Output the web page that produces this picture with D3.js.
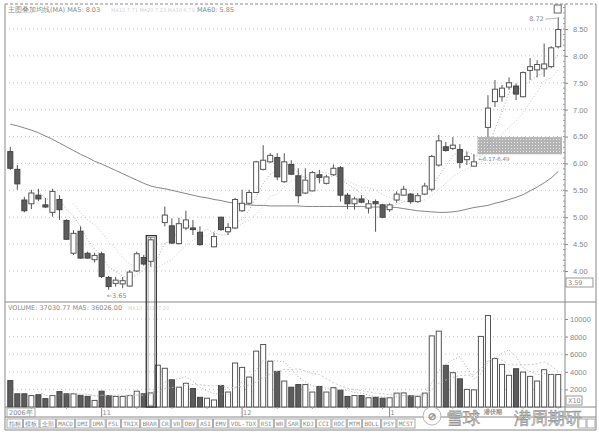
<!DOCTYPE html>
<html>
<head>
<meta charset="utf-8">
<title>K线图</title>
<style>
body { margin: 0; background: #fff; }
svg { display: block; font-family: 'DejaVu Sans', sans-serif; }
.grid { stroke: #c8c8c8; stroke-dasharray: 1,3; }
.frame { stroke: #888; fill: none; }
.up { fill: #fff; stroke: #555; }
.down { fill: #5c5c5c; stroke: #444; }
.wick { stroke: #555; }
.axis-label { fill: #888; font-size: 7.5px; }
.small { fill: #888; font-size: 6.5px; }
.btn { fill: #fff; stroke: #aaa; }
.btn-text { fill: #888; font-size: 6px; font-family: 'DejaVu Sans Mono', monospace; }
</style>
<script src="https://cdn.jsdelivr.net/npm/d3@7"></script>
</head>
<body>
<script>
// daily candles, null = not drawn
var opens  = [6.22,5.89,5.32,5.25,5.41,5.23,5.09,5.33,4.94,4.33,4.74,4.33,4.21,4.32,3.88,3.77,3.76,3.72,4.00,4.25,4.18,null,4.90,4.84,4.51,4.80,4.80,4.72,null,4.45,5.00,4.73,4.80,5.12,5.26,5.46,5.89,6.03,6.11,5.66,5.98,5.77,5.45,5.49,5.79,5.63,5.79,5.92,5.41,5.25,5.34,5.17,5.29,5.23,5.14,5.32,5.41,5.43,5.29,5.43,5.52,5.97,6.31,6.28,6.26,6.07,5.95,null,6.67,7.15,7.24,7.42,7.44,7.24,7.73,7.74,7.76,7.80,8.17];
var highs  = [6.31,5.97,5.38,5.51,5.53,5.36,5.53,5.41,4.96,4.76,4.83,4.36,4.34,4.36,3.91,3.89,3.89,4.02,4.36,4.30,4.62,null,5.20,4.98,4.99,5.12,4.95,4.83,null,4.71,5.01,4.89,5.36,5.51,5.51,6.05,6.34,6.19,6.19,6.19,6.06,5.91,5.91,5.86,5.88,5.79,5.98,5.95,5.45,5.38,5.41,5.32,5.33,5.25,5.26,5.48,5.58,5.45,5.45,5.64,6.16,6.53,6.40,6.49,6.36,6.22,6.17,null,7.27,7.55,7.46,7.60,7.49,7.71,7.96,7.92,8.23,8.18,8.72];
var lows   = [5.88,5.51,5.09,5.15,5.30,5.17,5.01,4.95,4.58,4.30,4.23,4.23,4.16,3.87,3.65,3.71,3.68,3.71,3.98,4.10,4.08,null,4.83,4.50,4.49,4.76,4.67,4.47,null,4.44,4.75,4.67,4.78,5.10,5.23,5.45,5.87,6.01,5.69,5.64,5.79,5.26,5.43,5.48,5.63,5.61,5.77,5.29,5.15,5.14,5.26,5.07,4.73,4.98,5.10,5.27,5.40,5.25,5.27,5.41,5.48,5.94,6.22,6.25,5.91,5.97,5.94,null,6.49,7.05,7.15,7.37,7.18,7.23,7.55,7.60,7.61,7.77,8.14];
var closes = [5.91,5.62,5.12,5.45,5.34,5.19,5.48,5.14,4.59,4.70,4.24,4.24,4.29,3.90,3.71,3.83,3.82,3.98,4.32,4.13,4.58,null,5.04,4.52,4.88,4.95,4.77,4.49,null,4.64,4.77,4.81,5.33,5.26,5.46,6.03,6.06,6.15,5.75,6.03,5.80,5.40,5.69,5.83,5.74,5.75,5.91,5.41,5.25,5.34,5.28,5.25,5.25,5.00,5.23,5.43,5.52,5.29,5.40,5.58,6.13,6.42,6.24,6.34,6.02,6.13,6.03,null,7.03,7.38,7.40,7.50,7.29,7.69,7.80,7.84,7.85,8.15,8.49];
var volumes = [3000,1500,1500,1300,1400,950,1300,1750,1500,1500,1300,1200,750,1800,1300,1200,1200,1300,1800,1500,1600,4750,4400,3100,2250,2700,2100,1100,1000,800,2450,1700,5000,4500,3400,6350,7100,5200,4050,2950,2250,2550,2550,1700,2340,1700,2200,1900,1200,1300,1300,1050,1100,1000,1050,1580,1600,1280,1200,1580,8080,8620,4730,3900,3200,2000,1950,8020,10400,5500,4840,3600,4350,3970,3480,2950,4240,3700,3700];
var ma60 = [6.73,6.70,6.66,6.62,6.57,6.51,6.45,6.38,6.31,6.24,6.17,6.11,6.04,5.99,5.93,5.87,5.81,5.75,5.69,5.63,5.58,5.55,5.53,5.50,5.47,5.44,5.41,5.38,5.36,5.33,5.31,5.28,5.26,5.24,5.23,5.22,5.22,5.21,5.21,5.21,5.21,5.21,5.20,5.20,5.20,5.20,5.20,5.20,5.20,5.20,5.20,5.19,5.19,5.19,5.19,5.18,5.16,5.14,5.12,5.11,5.10,5.09,5.09,5.10,5.12,5.15,5.18,5.20,5.22,5.26,5.29,5.33,5.37,5.42,5.49,5.56,5.64,5.73,5.85];

var priceTicks = [4.00,4.50,5.00,5.50,6.00,6.50,7.00,7.50,8.00,8.50];
var volTicks = [2000,4000,6000,8000,10000];
var monthLabels = ["2006年","11","12","1"];
var monthIndex = [0,13,33,54];
var buttons = ["指标","模板","全部","MACD","DMI","DMA","FSL","TRIX","BRAR","CR","VR","OBV","ASI","EMV","VOL-TDX","RSI","WR","SAR","KDJ","CCI","ROC","MTM","BOLL","PSY","MCST"];
var gapLow = 6.17, gapHigh = 6.49;
var markIndex = 20;

var width = 599, height = 434;
var plotLeft = 5, plotRight = 565, priceTop = 4, priceBottom = 302, volBottom = 407;

var svg = d3.select("body").append("svg")
    .attr("width", width)
    .attr("height", height);

var n = closes.length;
var x = d3.scaleBand().domain(d3.range(n)).range([5.8, 562.7]).padding(0.28);
var bw = x.bandwidth();
var cx = function(i) { return x(i) + bw / 2; };
var y = d3.scaleLinear().domain([4, 8.5]).range([271, 29]);
var yv = d3.scaleLinear().domain([0, 10000]).range([volBottom, 319]);

var defs = svg.append("defs");
var pat = defs.append("pattern").attr("id", "dots")
    .attr("width", 3).attr("height", 3).attr("patternUnits", "userSpaceOnUse");
pat.append("rect").attr("width", 3).attr("height", 3).attr("fill", "#b4b4b4");
pat.append("rect").attr("x", 1).attr("y", 1).attr("width", 1).attr("height", 1).attr("fill", "#e6e6e6");
defs.append("clipPath").attr("id", "pclip").append("rect")
    .attr("x", plotLeft).attr("y", priceTop).attr("width", plotRight - plotLeft).attr("height", priceBottom - priceTop);

// frame
svg.append("line").attr("class", "frame").attr("x1", plotLeft).attr("x2", 596).attr("y1", priceTop).attr("y2", priceTop)
    .style("stroke-dasharray", "3,2");
svg.append("line").attr("class", "frame").attr("x1", plotLeft).attr("x2", plotLeft).attr("y1", priceTop).attr("y2", 430);
svg.append("line").attr("class", "frame").attr("x1", plotRight).attr("x2", plotRight).attr("y1", priceTop).attr("y2", 417);
svg.append("line").attr("class", "frame").attr("x1", 596).attr("x2", 596).attr("y1", priceTop).attr("y2", 430);
svg.append("line").attr("class", "frame").attr("x1", plotLeft).attr("x2", 596).attr("y1", priceBottom).attr("y2", priceBottom);
svg.append("line").attr("class", "frame").attr("x1", plotLeft).attr("x2", 596).attr("y1", volBottom).attr("y2", volBottom);
svg.append("line").attr("class", "frame").attr("x1", plotLeft).attr("x2", 596).attr("y1", 417).attr("y2", 417);
svg.append("line").attr("class", "frame").attr("x1", plotLeft).attr("x2", 596).attr("y1", 430).attr("y2", 430);

// grid
svg.selectAll(".pgrid").data(priceTicks).enter().append("line")
    .attr("class", "grid").attr("x1", plotLeft).attr("x2", plotRight)
    .attr("y1", function(d) { return y(d); }).attr("y2", function(d) { return y(d); });
svg.selectAll(".vgrid").data(volTicks).enter().append("line")
    .attr("class", "grid").attr("x1", plotLeft).attr("x2", plotRight)
    .attr("y1", function(d) { return yv(d); }).attr("y2", function(d) { return yv(d); });

// right price axis
var pAxis = d3.axisRight(y).tickValues(priceTicks).tickFormat(d3.format(".2f")).tickSize(3);
var pa = svg.append("g").attr("transform", "translate(" + plotRight + ",0)").call(pAxis);
pa.select(".domain").remove();
pa.selectAll("line").attr("stroke", "#888");
pa.selectAll("text").attr("class", "axis-label").attr("x", 8).attr("font-family", null).attr("font-size", null);
var minor = d3.range(3.5, 9.0, 0.1);
svg.selectAll(".mtick").data(minor).enter().append("line")
    .attr("x1", plotRight - 2).attr("x2", plotRight)
    .attr("y1", function(d) { return y(d); }).attr("y2", function(d) { return y(d); })
    .attr("stroke", "#999")
    .attr("display", function(d) { return y(d) > priceTop && y(d) < 276 ? null : "none"; });

var vAxis = d3.axisRight(yv).tickValues(volTicks).tickFormat(d3.format("d")).tickSize(3);
var va = svg.append("g").attr("transform", "translate(" + plotRight + ",0)").call(vAxis);
va.select(".domain").remove();
va.selectAll("line").attr("stroke", "#888");
va.selectAll("text").attr("class", "axis-label").attr("x", 5).attr("font-family", null).attr("font-size", null);

// boxes at right
svg.append("rect").attr("x", plotRight + 1).attr("y", 278).attr("width", 27).attr("height", 9).attr("fill", "none").attr("stroke", "#999");
svg.append("text").attr("class", "small").attr("x", plotRight + 3).attr("y", 285).text("3.59");
svg.append("rect").attr("x", plotRight + 1).attr("y", 396).attr("width", 16).attr("height", 9).attr("fill", "none").attr("stroke", "#999");
svg.append("text").attr("class", "small").attr("x", plotRight + 3).attr("y", 403).text("X10");

var price = svg.append("g").attr("clip-path", "url(#pclip)");

// gap box
price.append("rect")
    .attr("x", x(66) + bw + 1).attr("width", plotRight - 3 - (x(66) + bw + 1))
    .attr("y", y(gapHigh)).attr("height", y(gapLow) - y(gapHigh))
    .attr("fill", "url(#dots)");

// moving averages
var idx = d3.range(n);
function movAvg(arr, k) {
    return idx.map(function(i) {
        if (i < k - 1) return null;
        var w = arr.slice(i - k + 1, i + 1).filter(function(v) { return v != null; });
        return d3.mean(w);
    });
}
var ma5 = movAvg(closes, 5), ma10 = movAvg(closes, 10);
var line = d3.line()
    .defined(function(d) { return d[1] != null; })
    .x(function(d) { return cx(d[0]); })
    .y(function(d) { return y(d[1]); });
price.append("path").attr("d", line(idx.map(function(i) { return [i, ma60[i]]; })))
    .attr("fill", "none").attr("stroke", "#777").attr("stroke-width", 0.9);
price.append("path").attr("d", line(idx.map(function(i) { return [i, ma5[i]]; })))
    .attr("fill", "none").attr("stroke", "#999").attr("stroke-width", 0.8).attr("stroke-dasharray", "1,2");
price.append("path").attr("d", line(idx.map(function(i) { return [i, ma10[i]]; })))
    .attr("fill", "none").attr("stroke", "#bbb").attr("stroke-width", 0.8).attr("stroke-dasharray", "1,2");

// candles
var candles = idx.filter(function(i) { return closes[i] != null; });
var g = price.selectAll(".candle").data(candles).enter().append("g");
g.append("line").attr("class", "wick")
    .attr("x1", function(i) { return cx(i); }).attr("x2", function(i) { return cx(i); })
    .attr("y1", function(i) { return y(highs[i]); }).attr("y2", function(i) { return y(lows[i]); });
g.append("rect")
    .attr("class", function(i) { return closes[i] >= opens[i] ? "up" : "down"; })
    .attr("x", function(i) { return x(i); }).attr("width", bw)
    .attr("y", function(i) { return y(Math.max(opens[i], closes[i])); })
    .attr("height", function(i) { return Math.max(1, Math.abs(y(opens[i]) - y(closes[i]))); });

// volume bars
var isDown = function(i) { return closes[i] != null && closes[i] < opens[i]; };
svg.selectAll(".vol").data(idx).enter().append("rect")
    .attr("class", function(i) { return isDown(i) ? "down" : "up"; })
    .attr("x", function(i) { return x(i); }).attr("width", bw)
    .attr("y", function(i) { return yv(volumes[i]); })
    .attr("height", function(i) { return volBottom - yv(volumes[i]); });
var vline = d3.line()
    .defined(function(d) { return d[1] != null; })
    .x(function(d) { return cx(d[0]); })
    .y(function(d) { return yv(d[1]); });
var vma5 = movAvg(volumes, 5), vma10 = movAvg(volumes, 10);
svg.append("path").attr("d", vline(idx.map(function(i) { return [i, vma5[i]]; })))
    .attr("fill", "none").attr("stroke", "#999").attr("stroke-width", 0.8).attr("stroke-dasharray", "1,2");
svg.append("path").attr("d", vline(idx.map(function(i) { return [i, vma10[i]]; })))
    .attr("fill", "none").attr("stroke", "#bbb").attr("stroke-width", 0.8).attr("stroke-dasharray", "2,2");

// highlight box around one candle
var hx = x(markIndex) - 2, hw = bw + 5, hy = y(highs[markIndex]) - 2;
svg.append("rect").attr("x", hx).attr("y", hy).attr("width", hw).attr("height", volBottom - hy)
    .attr("fill", "none").attr("stroke", "#333").attr("stroke-width", 1.3);
svg.append("rect").attr("x", hx + 1.8).attr("y", hy + 1.8).attr("width", hw - 3.6).attr("height", volBottom - hy - 3.6)
    .attr("fill", "none").attr("stroke", "#666").attr("stroke-width", 0.6);

// annotations
var lowI = d3.minIndex(lows), highI = d3.maxIndex(highs);
svg.append("text").attr("class", "small").attr("x", cx(lowI) - 2).attr("y", y(lows[lowI]) + 8).text("←" + lows[lowI].toFixed(2));
svg.append("text").attr("class", "small").attr("x", cx(highI) - 29).attr("y", y(highs[highI]) + 4).text(highs[highI].toFixed(2));
svg.append("line").attr("x1", cx(highI) - 13).attr("x2", cx(highI) - 1)
    .attr("y1", y(highs[highI]) + 2).attr("y2", y(highs[highI]) + 1).attr("stroke", "#999").attr("stroke-width", 0.7);
svg.append("rect").attr("x", cx(highI) - 4).attr("y", 5).attr("width", 7).attr("height", 8)
    .attr("fill", "#fff").attr("stroke", "#666");
svg.append("text").attr("class", "small").attr("x", x(66) + bw + 2).attr("y", y(gapLow) + 7)
    .style("font-size", "5.5px").text("←" + gapLow.toFixed(2) + "-" + gapHigh.toFixed(2));

// headers
svg.append("text").attr("class", "small").attr("x", 8).attr("y", 12)
    .text("主图叠加均线(MA)  MA5: 8.03");
svg.append("text").attr("class", "small").attr("x", 111).attr("y", 12).attr("fill-opacity", 0.4)
    .style("font-size", "5px").text("MA10 7.71  MA20 7.23  MA30 6.79");
svg.append("text").attr("class", "small").attr("x", 197).attr("y", 12).text("MA60: 5.85");
svg.append("text").attr("class", "small").attr("x", 8).attr("y", 310)
    .text("VOLUME: 37030.77  MA5: 36026.00");
svg.append("text").attr("class", "small").attr("x", 128).attr("y", 310).attr("fill-opacity", 0.4)
    .style("font-size", "5px").text("MA10: 43187.20");

// date row
svg.selectAll(".mlab").data(monthIndex).enter().append("text")
    .attr("class", "small")
    .attr("x", function(d, i) { return i === 0 ? 9 : cx(d) + 1; })
    .attr("y", 415)
    .text(function(d, i) { return monthLabels[i]; });
svg.append("rect").attr("x", 7).attr("y", 408).attr("width", 28).attr("height", 9).attr("fill", "none").attr("stroke", "#aaa");
svg.selectAll(".mtickd").data(monthIndex.slice(1)).enter().append("line")
    .attr("x1", function(d) { return cx(d); }).attr("x2", function(d) { return cx(d); })
    .attr("y1", volBottom).attr("y2", 417).attr("stroke", "#888");
svg.selectAll(".wtick").data(d3.range(3, n, 5)).enter().append("line")
    .attr("x1", function(d) { return cx(d); }).attr("x2", function(d) { return cx(d); })
    .attr("y1", volBottom).attr("y2", volBottom + 2).attr("stroke", "#aaa");

// button row
var bg = svg.append("g");
var bx = 7, startX = 7, endX = 416, widths = [];
var tmp = bg.selectAll(".bt").data(buttons).enter().append("text").attr("class", "btn-text").text(function(d) { return d; });
tmp.each(function() { widths.push(this.getComputedTextLength() + 4); });
var k = (endX - startX) / d3.sum(widths);
tmp.each(function(d, i) {
    var w = widths[i] * k;
    bg.insert("rect", "text").attr("class", "btn").attr("x", bx).attr("y", 419).attr("width", w - 1).attr("height", 9);
    d3.select(this).attr("x", bx + (w - 1) / 2).attr("y", 426).attr("text-anchor", "middle");
    bx += w;
});
bg.append("rect").attr("class", "btn").attr("x", 578).attr("y", 419).attr("width", 8).attr("height", 9);
bg.append("rect").attr("class", "btn").attr("x", 587).attr("y", 419).attr("width", 8).attr("height", 9);

// watermark
var wm = svg.append("g").attr("fill", "#fff").attr("stroke", "#999").attr("stroke-width", 0.7);
wm.append("circle").attr("cx", 432).attr("cy", 416).attr("r", 9).attr("fill", "#fff").attr("fill-opacity", 0.8);
wm.append("text").attr("x", 432).attr("y", 420).attr("text-anchor", "middle").attr("font-size", 10).text("⊘");
wm.append("text").attr("x", 446).attr("y", 424).attr("font-size", 17).text("雪球");
wm.append("text").attr("x", 484).attr("y", 414).attr("font-size", 6).attr("stroke-width", 0.3).attr("fill", "#999").text("潜伏期");
wm.append("text").attr("x", 514).attr("y", 424).attr("font-size", 17).text("潜周期研");
</script>
</body>
</html>
